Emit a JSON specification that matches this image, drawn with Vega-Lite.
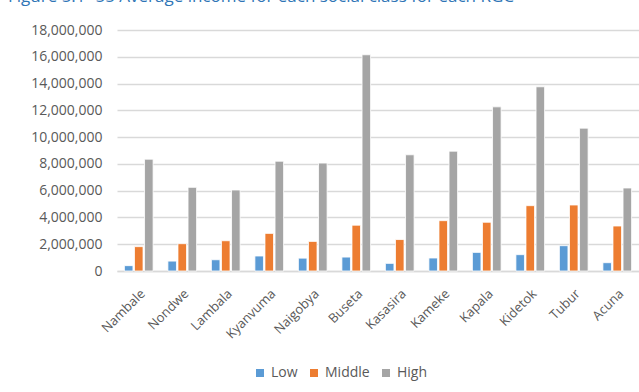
{
  "$schema": "https://vega.github.io/schema/vega-lite/v6.json",
  "autosize": {"type": "none"},
  "width": 522,
  "height": 241,
  "padding": {"left": 117, "top": 30, "right": 0, "bottom": 121},
  "background": "white",
  "title": {
    "text": "Figure 5.1- 55 Average income for each social class for each RGC",
    "anchor": "start",
    "frame": "group",
    "orient": "top",
    "dx": -109,
    "offset": 4,
    "font": "Open Sans",
    "fontSize": 17,
    "fontWeight": "normal",
    "color": "#2e75b6",
    "baseline": "alphabetic"
  },
  "data": {
    "values": [
      {"rgc": "Nambale", "class": "Low", "income": 400000},
      {"rgc": "Nambale", "class": "Middle", "income": 1820000},
      {"rgc": "Nambale", "class": "High", "income": 8350000},
      {"rgc": "Nondwe", "class": "Low", "income": 740000},
      {"rgc": "Nondwe", "class": "Middle", "income": 2040000},
      {"rgc": "Nondwe", "class": "High", "income": 6250000},
      {"rgc": "Lambala", "class": "Low", "income": 840000},
      {"rgc": "Lambala", "class": "Middle", "income": 2260000},
      {"rgc": "Lambala", "class": "High", "income": 6050000},
      {"rgc": "Kyanvuma", "class": "Low", "income": 1120000},
      {"rgc": "Kyanvuma", "class": "Middle", "income": 2810000},
      {"rgc": "Kyanvuma", "class": "High", "income": 8200000},
      {"rgc": "Naigobya", "class": "Low", "income": 960000},
      {"rgc": "Naigobya", "class": "Middle", "income": 2210000},
      {"rgc": "Naigobya", "class": "High", "income": 8060000},
      {"rgc": "Buseta", "class": "Low", "income": 1040000},
      {"rgc": "Buseta", "class": "Middle", "income": 3420000},
      {"rgc": "Buseta", "class": "High", "income": 16150000},
      {"rgc": "Kasasira", "class": "Low", "income": 570000},
      {"rgc": "Kasasira", "class": "Middle", "income": 2350000},
      {"rgc": "Kasasira", "class": "High", "income": 8680000},
      {"rgc": "Kameke", "class": "Low", "income": 970000},
      {"rgc": "Kameke", "class": "Middle", "income": 3760000},
      {"rgc": "Kameke", "class": "High", "income": 8950000},
      {"rgc": "Kapala", "class": "Low", "income": 1390000},
      {"rgc": "Kapala", "class": "Middle", "income": 3640000},
      {"rgc": "Kapala", "class": "High", "income": 12260000},
      {"rgc": "Kidetok", "class": "Low", "income": 1220000},
      {"rgc": "Kidetok", "class": "Middle", "income": 4880000},
      {"rgc": "Kidetok", "class": "High", "income": 13760000},
      {"rgc": "Tubur", "class": "Low", "income": 1890000},
      {"rgc": "Tubur", "class": "Middle", "income": 4930000},
      {"rgc": "Tubur", "class": "High", "income": 10670000},
      {"rgc": "Acuna", "class": "Low", "income": 620000},
      {"rgc": "Acuna", "class": "Middle", "income": 3360000},
      {"rgc": "Acuna", "class": "High", "income": 6200000}
    ]
  },
  "mark": {"type": "bar", "stroke": "white", "strokeWidth": 0.8},
  "encoding": {
    "x": {
      "field": "rgc",
      "type": "nominal",
      "sort": null,
      "scale": {"paddingInner": 0.34, "paddingOuter": 0.17},
      "axis": {
        "title": null,
        "labelAngle": -45,
        "labelFont": "Open Sans",
        "labelFontSize": 13,
        "labelColor": "#595959",
        "labelPadding": 16,
        "ticks": false,
        "domainColor": "#d9d9d9",
        "domainWidth": 1.5,
        "grid": false
      }
    },
    "xOffset": {
      "field": "class",
      "type": "nominal",
      "sort": ["Low", "Middle", "High"],
      "scale": {"paddingInner": 0.15, "paddingOuter": 0}
    },
    "y": {
      "field": "income",
      "type": "quantitative",
      "scale": {"domain": [0, 18000000], "nice": false},
      "axis": {
        "title": null,
        "values": [0, 2000000, 4000000, 6000000, 8000000, 10000000, 12000000, 14000000, 16000000, 18000000],
        "format": ",d",
        "labelFont": "Open Sans",
        "labelFontSize": 14,
        "labelColor": "#595959",
        "labelPadding": 15,
        "ticks": false,
        "domain": false,
        "gridColor": "#d9d9d9",
        "gridWidth": 1.5
      }
    },
    "color": {
      "field": "class",
      "type": "nominal",
      "sort": ["Low", "Middle", "High"],
      "scale": {"domain": ["Low", "Middle", "High"], "range": ["#5b9bd5", "#ed7d31", "#a5a5a5"]},
      "legend": {
        "title": null,
        "orient": "none",
        "legendX": 136,
        "legendY": 336,
        "direction": "horizontal",
        "symbolType": "square",
        "symbolSize": 64,
        "symbolStrokeWidth": 0,
        "labelFont": "Open Sans",
        "labelFontSize": 14,
        "labelColor": "#595959",
        "labelOffset": 4,
        "columnPadding": 9
      }
    }
  },
  "config": {"view": {"stroke": null}}
}
